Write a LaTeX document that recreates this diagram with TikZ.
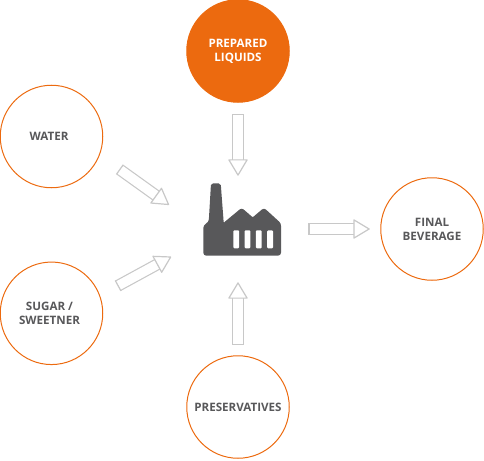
\documentclass[tikz,border=0pt]{standalone}
\usepackage{fontspec}
\setmainfont{Open Sans}
\usepackage{xcolor}
\usetikzlibrary{arrows.meta}
\definecolor{hexorange}{HTML}{EC6A0F}
\definecolor{inkdark}{HTML}{58585A}
\definecolor{hexgray}{HTML}{C8C8C8}
\begin{document}
\begin{tikzpicture}[
  x=1pt, y=-1pt,
  circ/.style={circle, draw=hexorange, line width=1pt, minimum size=102.5pt, inner sep=0pt, outer sep=0pt,
               align=center, text=inkdark, font=\fontsize{11.6}{14}\selectfont\bfseries},
  filled/.style={fill=hexorange, text=white},
  plant/.style={minimum width=78pt, minimum height=73pt, inner sep=0pt, outer sep=0pt},
  arr/.style={draw=hexgray, line width=1.2pt, double=white, double distance=9.5pt, line join=round,
              {Bar[width=11.9pt, line width=1.2pt]}-{Triangle[open, length=17pt, width=20pt, fill=white, line width=1.2pt, round]}}
]
\useasboundingbox (0,0) rectangle (484,460);
\node[circ, filled] (prepared) at (238,51) {PREPARED\\LIQUIDS};
\node[circ] (water) at (51.5,136.5) {WATER\hspace*{5pt}};
\node[circ] (sugar) at (51.5,313.3) {SUGAR /\hspace*{4pt}\\SWEETNER\hspace*{4pt}};
\node[circ] (preservatives) at (238,407) {PRESERVATIVES};
\node[circ] (final) at (432,229) {FINAL\\BEVERAGE};
\node[plant] (factory) at (242,219.5) {};
\begin{scope}[shift={(factory.center)}]
\fill[inkdark, even odd rule]
  [rounded corners=3pt] (-38.7,36.2) -- (-38.7,5.5) -- (-33.3,2.8)
  [rounded corners=2pt] -- (-31,-36.2) -- (-21.3,-36.2) [rounded corners=0.5pt] -- (-18.3,3.2)
  [rounded corners=2.5pt] -- (-0.3,-11.7) [rounded corners=0.5pt] -- (10.7,-2.2) [rounded corners=2.5pt] -- (22,-11.7)
  -- (39,3.8) [rounded corners=3pt] -- (39,36.2) -- cycle;
\foreach \winx in {-8.7,2.6,13.9,25.2}
  \fill[white, rounded corners=1pt] (\winx,10.8) rectangle ++(5.8,18);
\end{scope}
\draw[arr, shorten <=12pt, shorten >=7.3pt] (prepared.south) -- (prepared.south |- factory.north);
\draw[arr, shorten <=24.6pt, shorten >=41.8pt] (water.-21.5) -- (factory.194.4);
\draw[arr, shorten <=20.4pt, shorten >=36.2pt] (sugar.20.4) -- (factory.207.6);
\draw[arr, shorten <=11pt, shorten >=26.3pt] (preservatives.north) -- (preservatives.north |- factory.south);
\draw[arr, shorten <=27.3pt, shorten >=11pt] (final.west -| factory.east) -- (final.west);
\end{tikzpicture}
\end{document}
